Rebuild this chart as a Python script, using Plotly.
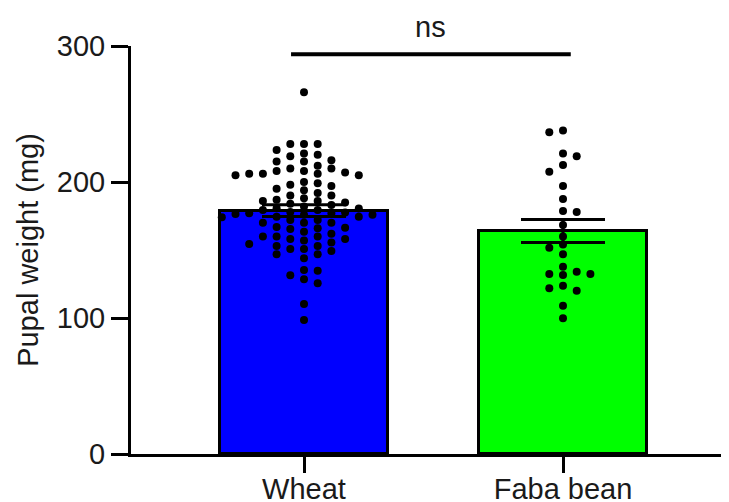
import plotly.graph_objects as go

# ---- data ----
categories = ["Wheat", "Faba bean"]
bar_means = [179.0, 164.0]
bar_sems = [4.3, 8.4]
bar_colors = ["#0000FF", "#00FF00"]

wheat_values = [
    266,
    228, 228, 228,
    223.5,
    221, 220, 219,
    216, 215, 215,
    212, 210, 210,
    208, 208, 207, 206, 206, 206, 205, 205,
    200, 199, 198, 197, 195,
    194, 192, 190, 190,
    188, 186,
    187, 186, 185, 184, 183, 182,
    180.6, 180.7, 179.4, 179.4, 178, 177.5, 177, 177, 176.5, 176, 176, 174.5, 174.5,
    172, 174, 170, 170, 170, 167, 172,
    166, 166.4, 165.4, 163.5, 162, 160, 160, 160,
    158, 158, 157, 155.6, 154.4, 153, 153,
    150.7, 150.7, 149.3, 146.8, 146.8,
    144,
    135.3, 134.8, 131.5, 128.5, 125.5,
    110.3,
    98.5,
]
faba_values = [
    237.8, 236.5, 221, 219, 212.5, 207.6, 197, 187.5, 178, 178.7,
    168.4, 160, 154, 151.7, 146.8, 137.7, 131.6, 134, 132.4, 132.4,
    121.8, 123.8, 120, 109, 99.8,
]
group_values = [wheat_values, faba_values]

y_ticks = [0, 100, 200, 300]
sig_label = "ns"
sig_y = 294

# ---- geometry helpers (pixel scale of the plot) ----
PX_PER_X = 259.0
PX_PER_Y = 408.0 / 300.0
COL_STEP = 13.7 / PX_PER_X
MIN_DY = 8.0 / PX_PER_Y
FONT = "Liberation Sans, Arial"
FS = 29


def swarm_offsets(vals):
    order = sorted(range(len(vals)), key=lambda i: -vals[i])
    cols = {}
    offs = [0.0] * len(vals)
    left = right = 0
    for i in order:
        v = vals[i]
        k = 0
        placed = False
        while not placed:
            cands = [0] if k == 0 else ([-k, k] if left <= right else [k, -k])
            for c in cands:
                if all(abs(v - w) >= MIN_DY for w in cols.get(c, [])):
                    cols.setdefault(c, []).append(v)
                    offs[i] = c * COL_STEP
                    if c < 0:
                        left += 1
                    elif c > 0:
                        right += 1
                    placed = True
                    break
            k += 1
    return offs


fig = go.Figure()

x_pos = list(range(len(categories)))

fig.add_trace(go.Bar(
    x=x_pos, y=bar_means, width=0.65,
    marker=dict(color=bar_colors, line=dict(color="black", width=3)),
    showlegend=False, hoverinfo="skip",
))

for gi, vals in enumerate(group_values):
    offs = swarm_offsets(vals)
    fig.add_trace(go.Scatter(
        x=[gi + o for o in offs], y=vals, mode="markers",
        marker=dict(color="black", size=8, line=dict(width=0)),
        showlegend=False, cliponaxis=False,
    ))

fig.add_trace(go.Scatter(
    x=x_pos, y=bar_means, mode="markers",
    marker=dict(size=1, color="rgba(0,0,0,0)"),
    error_y=dict(type="data", array=bar_sems, visible=True,
                 color="black", thickness=3, width=42),
    showlegend=False,
))

fig.add_shape(type="line", x0=-0.05, x1=1.03, y0=sig_y, y1=sig_y,
              xref="x", yref="y", line=dict(color="black", width=4))
fig.add_annotation(x=0.49, y=sig_y, xref="x", yref="y", text=sig_label,
                   showarrow=False, yanchor="bottom", yshift=9,
                   font=dict(size=FS, color="#1a1a1a", family=FONT))

x_left = -173.0 / PX_PER_X
x_right = x_left + (729 - 123) / PX_PER_X

fig.update_layout(
    width=729, height=502,
    margin=dict(l=123, r=0, t=38, b=56),
    plot_bgcolor="white", paper_bgcolor="white",
    font=dict(family=FONT, color="#1a1a1a", size=FS),
    bargap=0,
)
fig.update_xaxes(
    range=[x_left, x_right], tickmode="array", tickvals=x_pos, ticktext=categories,
    showline=True, linecolor="black", linewidth=3, ticks="outside", ticklen=16,
    tickwidth=3, tickcolor="black", showgrid=False, zeroline=False,
    tickfont=dict(size=FS, color="#1a1a1a"), automargin=False,
    ticklabelstandoff=-9,
)
fig.update_yaxes(
    range=[0, 300], tickmode="array", tickvals=y_ticks,
    showline=True, linecolor="black", linewidth=3, ticks="outside", ticklen=17,
    tickwidth=3, tickcolor="black", showgrid=False, zeroline=False,
    title=dict(text="Pupal weight (mg)", font=dict(size=FS, color="#1a1a1a"), standoff=10),
    tickfont=dict(size=FS, color="#1a1a1a"), automargin=False,
)

fig.write_html("out.html")
